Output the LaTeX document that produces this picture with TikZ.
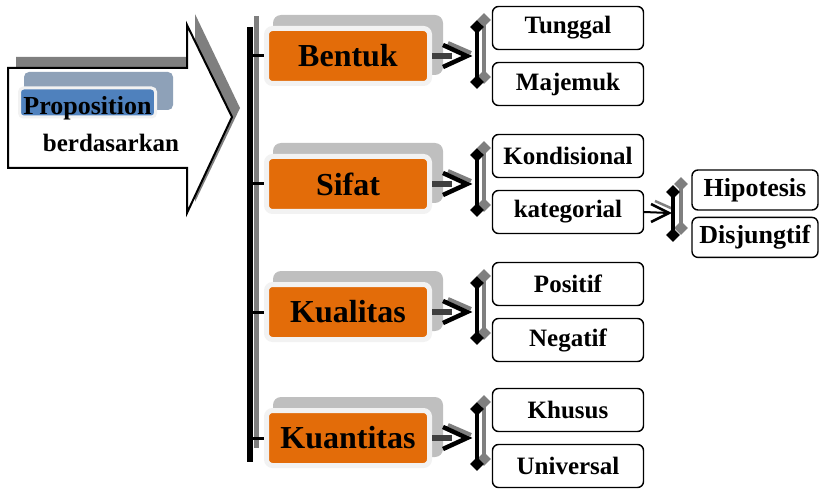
\documentclass[tikz,border=0pt]{standalone}
\usepackage{fontspec}
\setmainfont{Liberation Serif}
\usetikzlibrary{positioning,shapes.geometric}
\definecolor{catorange}{HTML}{E36C09}
\definecolor{propblue}{HTML}{4F81BD}
\definecolor{propshade}{HTML}{8EA1B8}
\definecolor{boxshade}{HTML}{BFBFBF}
\definecolor{rim}{HTML}{F2F2F2}
\definecolor{arrowshade}{HTML}{7F7F7F}
\definecolor{shaft}{HTML}{404040}
\tikzset{
    cat-box/.style = {fill=catorange, draw=rim, line width=5pt, rounded corners=6pt, minimum width=163pt, minimum height=55pt, inner sep=0pt, font=\bfseries\fontsize{32}{32}\selectfont},
    cat-shade/.style = {fill=boxshade, rounded corners=8pt, minimum width=170pt, minimum height=60pt, inner sep=0pt},
    leaf-box/.style = {draw, fill=white, line width=1.4pt, rounded corners=6pt, minimum width=151pt, minimum height=43pt, inner sep=1pt, font=\bfseries\fontsize{25}{25}\selectfont},
    small-leaf/.style = {leaf-box, minimum width=126pt, minimum height=40pt, font=\bfseries\fontsize{26}{26}\selectfont},
    prop-box/.style = {fill=propblue, draw=rim, line width=3pt, rounded corners=4pt, minimum width=136pt, minimum height=29pt, inner sep=0pt, text height=25pt, text depth=0pt, font=\bfseries\fontsize{26}{26}\selectfont},
    end-mark/.style = {diamond, fill=black, minimum size=14pt, inner sep=0pt},
    end-mark-shade/.style = {end-mark, fill=arrowshade},
    bracket/.style = {line width=3.5pt},
    bracket-shade/.style = {line width=3.5pt, arrowshade},
}

\begin{document}
\begin{tikzpicture}[x=1pt, y=-1pt]
\useasboundingbox (0,0) rectangle (820,492);

\fill[arrowshade] (16,57) -- (195,57) -- (195,14) -- (240,108) -- (195,202) -- (195,157) -- (16,157) -- cycle;
\draw[fill=white, line width=2pt, line join=miter] (8,68) -- (187,68) -- (187,25) -- (232,117) -- (187,213) -- (187,168) -- (8,168) -- cycle;

\node[fill=propshade, rounded corners=5pt, minimum width=149pt, minimum height=38pt] (prop-shade) at (98.5,91) {};
\node[prop-box] (prop) at (87.5,102.5) {Proposition};
\node[font=\bfseries\fontsize{25}{25}\selectfont, inner sep=0pt] (basis) at (111,143) {berdasarkan};

\coordinate (bar-top) at (250,27);
\coordinate (bar-bot) at (250,462);
\draw[line width=5pt, arrowshade] ([shift={(6,-11)}]bar-top) -- ([shift={(6,-14)}]bar-bot);
\draw[line width=6pt] (bar-top) -- (bar-bot);

\foreach \name/\y/\leafa/\leafb in {Bentuk/56/Tunggal/Majemuk, Sifat/184/Kondisional/kategorial, Kualitas/312/Positif/Negatif, Kuantitas/438/Khusus/Universal}{
    \node[cat-shade] (shade-\name) at (358,\y-11) {};
    \node[cat-box] (cat-\name) at (348,\y) {\name};
    \coordinate (tick-\name) at (250,\y);
    \draw[line width=3pt] (tick-\name) -- (cat-\name.west);
    \coordinate (brk-\name) at (477,\y);
    \draw[line width=6pt, shaft] (cat-\name.east) -- ++(20,0);
    \draw[line width=4pt, arrowshade] ([shift={(-29,-13)}]brk-\name) -- ([shift={(-6,-3)}]brk-\name);
    \draw[line width=4.5pt, line join=miter] ([shift={(-34,-11)}]brk-\name) -- ([shift={(-10,0)}]brk-\name) -- ([shift={(-34,11)}]brk-\name);
    \draw[bracket-shade] (484,\y-36) -- (484,\y+21);
    \node[end-mark-shade] (mark-a-\name) at (484,\y-36) {};
    \node[end-mark-shade] (mark-b-\name) at (484,\y+21) {};
    \draw[bracket] (477,\y-29) -- (477,\y+26);
    \node[end-mark] (end-a-\name) at (477,\y-29) {};
    \node[end-mark] (end-b-\name) at (477,\y+26) {};
    \node[leaf-box] (leaf-\leafa) at (568,\y-28) {\leafa};
    \node[leaf-box] (leaf-\leafb) at (568,\y+28) {\leafb};
}

\coordinate (brk-kat) at (673,213);
\draw[line width=2.5pt, arrowshade] ([shift={(-18,-12)}]brk-kat) -- ([shift={(0,-4)}]brk-kat);
\draw[line width=2pt] (leaf-kategorial.east) -- ([xshift=-4pt]brk-kat);
\draw[line width=2.5pt, line join=miter] ([shift={(-22,-9)}]brk-kat) -- ([shift={(-4,0)}]brk-kat) -- ([shift={(-22,9)}]brk-kat);
\draw[bracket-shade] (681,184) -- (681,228);
\node[end-mark-shade] (mark-a-kat) at (681,184) {};
\node[end-mark-shade] (mark-b-kat) at (681,228) {};
\draw[bracket] (673,192) -- (673,235);
\node[end-mark] (end-a-kat) at (673,192) {};
\node[end-mark] (end-b-kat) at (673,235) {};
\node[small-leaf] (leaf-Hipotesis) at (755,190) {Hipotesis};
\node[small-leaf, below=6pt of leaf-Hipotesis] (leaf-Disjungtif) {Disjungtif};
\end{tikzpicture}
\end{document}
